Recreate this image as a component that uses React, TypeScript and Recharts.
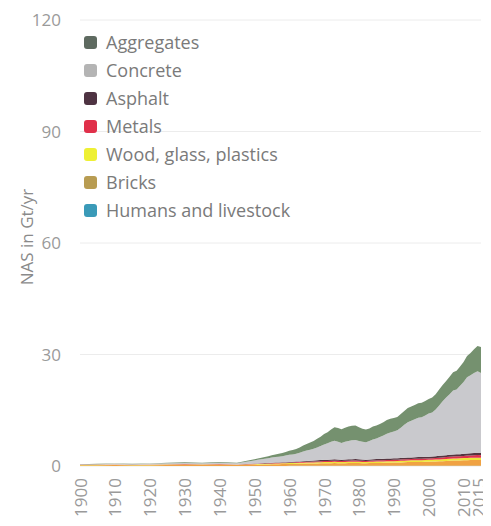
import { AreaChart, Area, XAxis, YAxis, CartesianGrid, Label } from 'recharts'

// years: 5-year steps before 1950, annual afterwards
const years = [
  1900, 1905, 1910, 1915, 1920, 1925, 1930, 1935, 1940, 1945,
  1950, 1951, 1952, 1953, 1954, 1955, 1956, 1957, 1958, 1959,
  1960, 1961, 1962, 1963, 1964, 1965, 1966, 1967, 1968, 1969,
  1970, 1971, 1972, 1973, 1974, 1975, 1976, 1977, 1978, 1979,
  1980, 1981, 1982, 1983, 1984, 1985, 1986, 1987, 1988, 1989,
  1990, 1991, 1992, 1993, 1994, 1995, 1996, 1997, 1998, 1999,
  2000, 2001, 2002, 2003, 2004, 2005, 2006, 2007, 2008, 2009,
  2010, 2011, 2012, 2013, 2014, 2015,
]

// NAS in Gt/yr, per material
const humans = [
  0.02, 0.02, 0.02, 0.02, 0.02, 0.02, 0.02, 0.02, 0.02, 0.02,
  0.03, 0.03, 0.03, 0.03, 0.03, 0.03, 0.03, 0.03, 0.03, 0.03,
  0.04, 0.04, 0.04, 0.04, 0.04, 0.04, 0.04, 0.04, 0.04, 0.04,
  0.04, 0.04, 0.04, 0.04, 0.04, 0.04, 0.04, 0.04, 0.04, 0.04,
  0.05, 0.05, 0.05, 0.05, 0.05, 0.05, 0.05, 0.05, 0.05, 0.05,
  0.05, 0.05, 0.05, 0.05, 0.05, 0.05, 0.05, 0.05, 0.05, 0.05,
  0.06, 0.06, 0.06, 0.06, 0.06, 0.06, 0.06, 0.06, 0.06, 0.06,
  0.06, 0.06, 0.06, 0.06, 0.06, 0.06,
]
const bricks = [
  0.18, 0.2, 0.22, 0.18, 0.2, 0.25, 0.27, 0.24, 0.27, 0.22,
  0.32, 0.34, 0.36, 0.38, 0.4, 0.42, 0.44, 0.46, 0.48, 0.5,
  0.52, 0.53, 0.55, 0.57, 0.59, 0.61, 0.63, 0.64, 0.66, 0.68,
  0.7, 0.71, 0.73, 0.74, 0.72, 0.7, 0.72, 0.74, 0.75, 0.76,
  0.74, 0.72, 0.71, 0.73, 0.75, 0.77, 0.79, 0.81, 0.83, 0.85,
  0.86, 0.88, 0.92, 0.96, 1.0, 1.02, 1.04, 1.06, 1.06, 1.08,
  1.1, 1.12, 1.16, 1.2, 1.25, 1.3, 1.35, 1.4, 1.4, 1.44,
  1.48, 1.52, 1.54, 1.56, 1.58, 1.55,
]
const wood = [
  0.1, 0.11, 0.12, 0.1, 0.11, 0.13, 0.14, 0.12, 0.14, 0.11,
  0.15, 0.16, 0.16, 0.17, 0.18, 0.18, 0.19, 0.2, 0.2, 0.21,
  0.22, 0.22, 0.23, 0.24, 0.25, 0.26, 0.27, 0.28, 0.29, 0.3,
  0.31, 0.32, 0.33, 0.34, 0.33, 0.32, 0.33, 0.34, 0.35, 0.35,
  0.34, 0.33, 0.33, 0.34, 0.35, 0.36, 0.37, 0.38, 0.39, 0.4,
  0.4, 0.41, 0.42, 0.43, 0.44, 0.45, 0.46, 0.47, 0.47, 0.48,
  0.49, 0.5, 0.51, 0.52, 0.53, 0.54, 0.55, 0.56, 0.56, 0.57,
  0.58, 0.59, 0.6, 0.6, 0.61, 0.61,
]
const metals = [
  0.04, 0.05, 0.06, 0.05, 0.05, 0.07, 0.08, 0.07, 0.09, 0.06,
  0.09, 0.1, 0.11, 0.12, 0.12, 0.13, 0.14, 0.15, 0.15, 0.16,
  0.17, 0.18, 0.19, 0.2, 0.21, 0.22, 0.23, 0.24, 0.25, 0.27,
  0.28, 0.28, 0.3, 0.32, 0.31, 0.28, 0.29, 0.3, 0.31, 0.32,
  0.3, 0.29, 0.28, 0.29, 0.3, 0.31, 0.31, 0.32, 0.33, 0.34,
  0.34, 0.34, 0.34, 0.35, 0.35, 0.36, 0.37, 0.38, 0.38, 0.39,
  0.4, 0.41, 0.43, 0.45, 0.48, 0.5, 0.53, 0.56, 0.57, 0.56,
  0.6, 0.63, 0.65, 0.67, 0.69, 0.68,
]
const asphalt = [
  0, 0, 0.01, 0.01, 0.01, 0.02, 0.02, 0.02, 0.03, 0.02,
  0.05, 0.06, 0.07, 0.08, 0.09, 0.1, 0.11, 0.12, 0.13, 0.14,
  0.15, 0.16, 0.17, 0.19, 0.2, 0.22, 0.24, 0.26, 0.28, 0.31,
  0.34, 0.36, 0.38, 0.4, 0.38, 0.36, 0.37, 0.38, 0.39, 0.39,
  0.37, 0.35, 0.34, 0.35, 0.36, 0.37, 0.38, 0.39, 0.4, 0.41,
  0.41, 0.41, 0.42, 0.43, 0.44, 0.44, 0.45, 0.46, 0.46, 0.47,
  0.47, 0.48, 0.49, 0.5, 0.51, 0.52, 0.53, 0.54, 0.54, 0.53,
  0.55, 0.56, 0.57, 0.58, 0.59, 0.6,
]
const concrete = [
  0.08, 0.12, 0.15, 0.14, 0.19, 0.26, 0.29, 0.27, 0.35, 0.31,
  0.86, 0.96, 1.07, 1.17, 1.28, 1.44, 1.49, 1.54, 1.61, 1.76,
  1.9, 1.97, 2.12, 2.31, 2.61, 2.8, 2.99, 3.19, 3.48, 3.75,
  4.13, 4.39, 4.72, 4.96, 4.72, 4.5, 4.75, 4.9, 5.06, 5.14,
  4.9, 4.76, 4.69, 4.94, 5.29, 5.54, 5.9, 6.25, 6.7, 6.95,
  7.24, 7.51, 8.15, 8.88, 9.52, 9.88, 10.23, 10.58, 10.68, 11.13,
  11.58, 11.83, 12.55, 13.57, 14.57, 15.48, 16.28, 17.18, 17.47, 18.44,
  19.33, 20.54, 20.98, 21.53, 21.97, 21.5,
]
const aggregates = [
  0.08, 0.1, 0.12, 0.1, 0.12, 0.15, 0.18, 0.16, 0.2, 0.16,
  0.3, 0.35, 0.4, 0.45, 0.5, 0.6, 0.7, 0.8, 0.9, 1.0,
  1.1, 1.2, 1.3, 1.45, 1.6, 1.75, 1.9, 2.05, 2.3, 2.55,
  2.8, 3.0, 3.3, 3.6, 3.7, 3.7, 3.8, 3.9, 3.9, 3.9,
  3.7, 3.5, 3.4, 3.4, 3.5, 3.5, 3.5, 3.6, 3.7, 3.7,
  3.6, 3.6, 3.7, 3.7, 3.8, 3.8, 3.8, 3.9, 3.9, 3.9,
  3.9, 4.0, 4.1, 4.3, 4.4, 4.5, 4.7, 4.9, 5.0, 5.2,
  5.4, 5.7, 6.0, 6.4, 6.8, 7.0,
]

const xTicks = [1900, 1910, 1920, 1930, 1940, 1950, 1960, 1970, 1980, 1990, 2000, 2010, 2015]
const yTicks = [0, 30, 60, 90, 120]

// stacking order bottom -> top
const series = [
  { key: 'humans', name: 'Humans and livestock', fill: '#3a9fc2', icon: '#3a9ab8' },
  { key: 'bricks', name: 'Bricks', fill: '#f0a243', icon: '#b89c52' },
  { key: 'wood', name: 'Wood, glass, plastics', fill: '#eee63a', icon: '#eef034' },
  { key: 'metals', name: 'Metals', fill: '#e0334c', icon: '#e0304a' },
  { key: 'asphalt', name: 'Asphalt', fill: '#55343f', icon: '#4e3342' },
  { key: 'concrete', name: 'Concrete', fill: '#c9c9cd', icon: '#b4b4b4' },
  { key: 'aggregates', name: 'Aggregates', fill: '#75916f', icon: '#5e6a60' },
]

const data = years.map((year, i) => ({
  year,
  humans: humans[i],
  bricks: bricks[i],
  wood: wood[i],
  metals: metals[i],
  asphalt: asphalt[i],
  concrete: concrete[i],
  aggregates: aggregates[i],
}))

const font = '"Open Sans", sans-serif'

const XTick = ({ x, y, payload }: any) => {
  // keep the last label inside the page edge
  const tx = payload.value === 2015 ? x - 3 : x
  return (
    <text
      x={tx}
      y={y}
      transform={`rotate(-90 ${tx} ${y})`}
      textAnchor="end"
      dominantBaseline="central"
      fill="#9a9a9a"
      fontSize={17}
      fontFamily={font}
    >
      {payload.value}
    </text>
  )
}

// legend drawn as an overlay so it does not take room from the plot
const LegendBox = () => (
  <div
    style={{
      position: 'absolute',
      top: 20,
      left: 76,
      fontFamily: font,
      fontSize: 18,
      color: '#7a7a7a',
    }}
  >
    {[...series].reverse().map((s) => (
      <div key={s.key} style={{ display: 'flex', alignItems: 'center', height: 28 }}>
        <span
          style={{
            width: 13,
            height: 13,
            borderRadius: 3,
            background: s.icon,
            marginRight: 9,
            display: 'inline-block',
          }}
        />
        {s.name}
      </div>
    ))}
  </div>
)

const App = () => (
  <div style={{ position: 'relative', background: '#fff', width: 483, height: 518 }}>
    <AreaChart width={483} height={518} data={data} margin={{ top: 12, right: 10, left: 0, bottom: 0 }}>
      <CartesianGrid vertical={false} stroke="#ececec" />
      <XAxis
        dataKey="year"
        type="number"
        domain={[1900, 2015]}
        ticks={xTicks}
        interval={0}
        axisLine={false}
        tickLine={false}
        tickSize={0}
        tickMargin={12}
        height={60}
        tick={<XTick />}
      />
      <YAxis
        domain={[0, 120]}
        ticks={yTicks}
        axisLine={false}
        tickLine={false}
        tickSize={0}
        tickMargin={19}
        width={72}
        tick={{ fill: '#9a9a9a', fontSize: 17, fontFamily: font }}
      >
        <Label
          content={({ viewBox }: any) => {
            const cx = viewBox.x + 18
            const cy = viewBox.y + viewBox.height / 2 - 6
            return (
              <text
                x={cx}
                y={cy}
                transform={`rotate(-90 ${cx} ${cy})`}
                textAnchor="middle"
                dominantBaseline="central"
                fill="#8a8a8a"
                fontSize={17}
                fontFamily={font}
              >
                NAS in Gt/yr
              </text>
            )
          }}
        />
      </YAxis>
      {series.map((s) => (
        <Area
          key={s.key}
          type="linear"
          dataKey={s.key}
          name={s.name}
          stackId="nas"
          stroke="none"
          fill={s.fill}
          fillOpacity={1}
          isAnimationActive={false}
        />
      ))}
    </AreaChart>
    <LegendBox />
  </div>
)

export default App
